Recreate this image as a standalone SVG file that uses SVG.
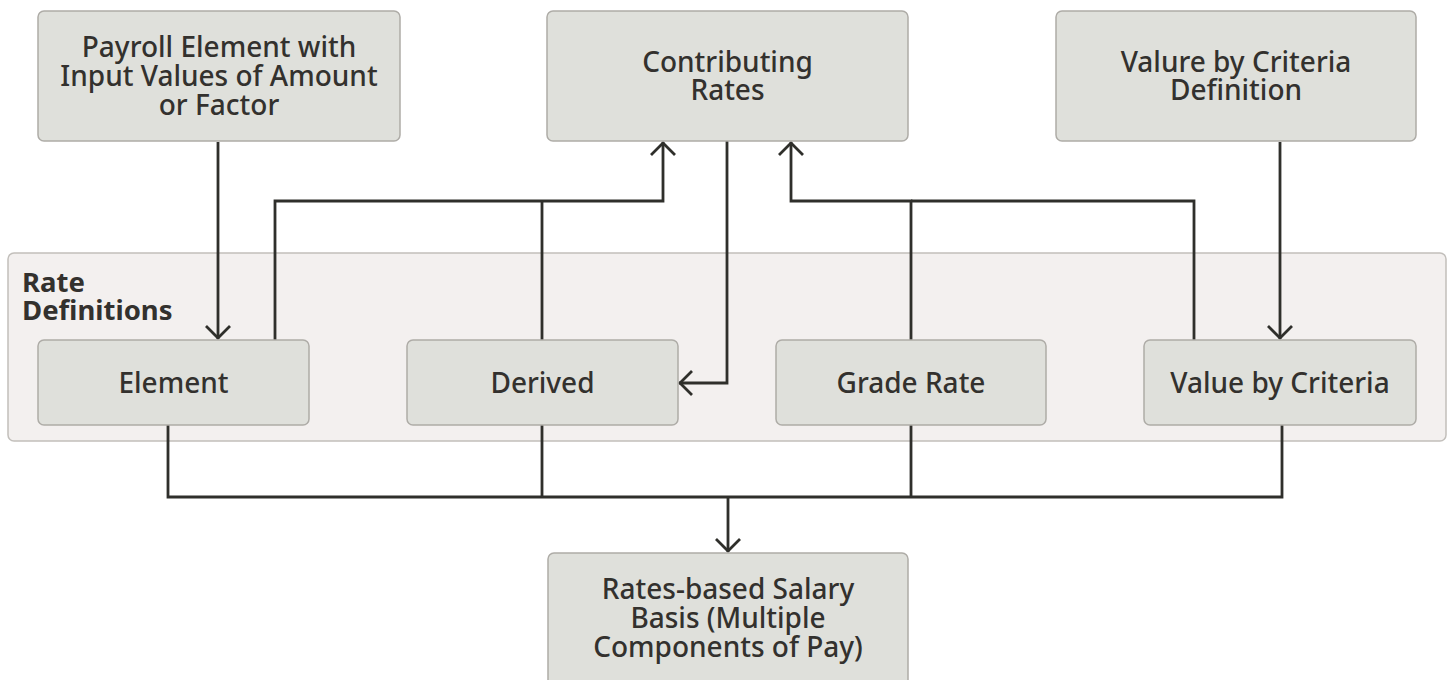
<svg xmlns="http://www.w3.org/2000/svg" width="1448" height="680" viewBox="0 0 1448 680">
<style>
.node{fill:#dfe0db;stroke:#aeaca7;stroke-width:1.5}
.cont{fill:#f3f0ef;stroke:#c2bfbb;stroke-width:1.5}
.t{font-family:"Noto Sans","Open Sans","DejaVu Sans",sans-serif;font-size:28px;font-weight:500;fill:#33312e;text-anchor:middle}
.lbl{font-family:"Noto Sans","Open Sans","DejaVu Sans",sans-serif;font-size:27.5px;font-weight:700;fill:#33312e}
.c{fill:none;stroke:#2f2f2b;stroke-width:2.8;stroke-linejoin:miter}
</style>
<defs>
<marker id="arr" markerUnits="userSpaceOnUse" markerWidth="30" markerHeight="30" viewBox="-15 -15 30 30" refX="1" refY="0" orient="auto">
<path d="M-12,-12 L0,0 L-12,12" fill="none" stroke="#2f2f2b" stroke-width="2.8"/>
</marker>
</defs>
<rect width="1448" height="680" fill="#ffffff"/>
<g id="rate-definitions">
<rect class="cont" x="8" y="253" width="1438" height="188" rx="6"/>
<text class="lbl" x="22" y="292">Rate<tspan x="22" dy="28">Definitions</tspan></text>
</g>
<g id="connectors">
<path class="c" d="M218,142 V339" marker-end="url(#arr)"/>
<path class="c" d="M275,340 V201 H663 V142" marker-end="url(#arr)"/>
<path class="c" d="M542,340 V201"/>
<path class="c" d="M727,141 V383 H679" marker-end="url(#arr)"/>
<path class="c" d="M911,340 V201 H791 V142" marker-end="url(#arr)"/>
<path class="c" d="M1194,340 V201 H911"/>
<path class="c" d="M1280,142 V339" marker-end="url(#arr)"/>
<path class="c" d="M168,425 V497 H1282 V425"/>
<path class="c" d="M542,425 V497"/>
<path class="c" d="M911,425 V497"/>
<path class="c" d="M728,497 V552" marker-end="url(#arr)"/>
</g>
<g id="payroll-element">
<rect class="node" x="38" y="11" width="362" height="130" rx="6"/>
<text class="t" x="219" y="57">Payroll Element with<tspan x="219" dy="29">Input Values of Amount</tspan><tspan x="219" dy="29">or Factor</tspan></text>
</g>
<g id="contributing-rates">
<rect class="node" x="547" y="11" width="361" height="130" rx="6"/>
<text class="t" x="727.5" y="72">Contributing<tspan x="727.5" dy="28">Rates</tspan></text>
</g>
<g id="value-by-criteria-definition">
<rect class="node" x="1056" y="11" width="360" height="130" rx="6"/>
<text class="t" x="1236" y="72">Valure by Criteria<tspan x="1236" dy="28">Definition</tspan></text>
</g>
<g id="element">
<rect class="node" x="38" y="340" width="271" height="85" rx="6"/>
<text class="t" x="173.5" y="393">Element</text>
</g>
<g id="derived">
<rect class="node" x="407" y="340" width="271" height="85" rx="6"/>
<text class="t" x="542.5" y="393">Derived</text>
</g>
<g id="grade-rate">
<rect class="node" x="776" y="340" width="270" height="85" rx="6"/>
<text class="t" x="911" y="393">Grade Rate</text>
</g>
<g id="value-by-criteria">
<rect class="node" x="1144" y="340" width="272" height="85" rx="6"/>
<text class="t" x="1280" y="393">Value by Criteria</text>
</g>
<g id="rates-based-salary-basis">
<rect class="node" x="548" y="553" width="360" height="140" rx="6"/>
<text class="t" x="728" y="599">Rates-based Salary<tspan x="728" dy="29">Basis (Multiple</tspan><tspan x="728" dy="29">Components of Pay)</tspan></text>
</g>
</svg>
